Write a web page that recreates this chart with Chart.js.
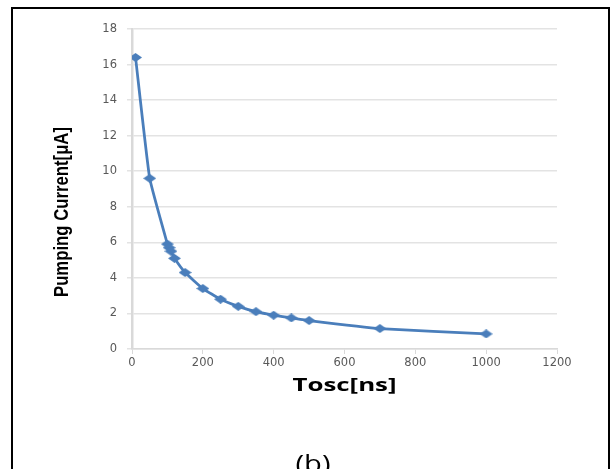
<!DOCTYPE html>
<html>
<head>
<meta charset="utf-8">
<title>Pumping Current vs Tosc</title>
<script src="https://cdn.jsdelivr.net/npm/chart.js@4/dist/chart.umd.min.js"></script>
<style>
  html, body { margin: 0; padding: 0; background: #ffffff; }
  #wrap { position: relative; width: 611px; height: 469px; }
</style>
</head>
<body>
<div id="wrap"><canvas id="chart" width="611" height="469"></canvas></div>
<script>
// Oscillation period (ns) and measured pumping current (µA)
const toscNs    = [10, 50, 100, 105, 110, 120, 150, 200, 250, 300, 350, 400, 450, 500, 700, 1000];
const currentUA = [16.4, 9.6, 5.9, 5.7, 5.5, 5.1, 4.3, 3.4, 2.8, 2.4, 2.1, 1.9, 1.75, 1.6, 1.15, 0.85];

// Axis ranges and labels
const xTickStep = 200, xMax = 1200;
const yTickStep = 2,   yMax = 18;
const xTitle = 'Tosc[ns]';
const yTitle = 'Pumping Current[\u03bcA]';
const caption = '(b)';

const seriesColor = '#4a7ebb';
const points = toscNs.map((x, i) => ({ x: x, y: currentUA[i] }));

// Wide diamond marker used as the point style
const marker = document.createElement('canvas');
marker.width = 13;
marker.height = 9;
(function () {
  const m = marker.getContext('2d');
  m.fillStyle = seriesColor;
  m.beginPath();
  m.moveTo(6.5, 0);
  m.lineTo(13, 4.5);
  m.lineTo(6.5, 9);
  m.lineTo(0, 4.5);
  m.closePath();
  m.fill();
})();

// Draws a text string squeezed/stretched to a given width
function fitText(ctx, text, cx, cy, width, font, rotate) {
  ctx.save();
  ctx.font = font;
  const w = ctx.measureText(text).width;
  ctx.translate(cx, cy);
  if (rotate) ctx.rotate(-Math.PI / 2);
  ctx.scale(width / w, 1);
  ctx.textAlign = 'center';
  ctx.textBaseline = 'middle';
  ctx.fillStyle = '#000000';
  ctx.fillText(text, 0, 0);
  ctx.restore();
}

const framePlugin = {
  id: 'frame',
  beforeDraw(chart) {
    const ctx = chart.ctx;
    ctx.save();
    ctx.fillStyle = '#ffffff';
    ctx.fillRect(0, 0, chart.width, chart.height);
    ctx.strokeStyle = '#000000';
    ctx.lineWidth = 2;
    ctx.strokeRect(12, 8, 597, 480);
    ctx.restore();
  },
  afterDraw(chart) {
    const ctx = chart.ctx;
    const area = chart.chartArea;
    // axis titles and caption
    fitText(ctx, yTitle, 62, 212, 170, 'bold 20px "Liberation Sans Narrow", "Liberation Sans", sans-serif', true);
    fitText(ctx, xTitle, (area.left + area.right) / 2, 386, 104, 'bold 18px "Open Sans", sans-serif', false);
    ctx.save();
    ctx.font = '24px "Open Sans", sans-serif';
    const w = ctx.measureText(caption).width;
    ctx.translate(313, 472);
    ctx.scale(35 / w, 1);
    ctx.textAlign = 'center';
    ctx.textBaseline = 'alphabetic';
    ctx.fillStyle = '#000000';
    ctx.fillText(caption, 0, 0);
    ctx.restore();
  }
};

new Chart(document.getElementById('chart'), {
  type: 'line',
  data: {
    datasets: [{
      data: points,
      borderColor: seriesColor,
      backgroundColor: seriesColor,
      borderWidth: 2.75,
      pointStyle: marker,
      pointRadius: 5,
      tension: 0.12,
      fill: false
    }]
  },
  options: {
    responsive: false,
    animation: false,
    layout: { padding: { left: 0, right: 54, top: 29, bottom: 0 } },
    plugins: {
      legend: { display: false },
      tooltip: { enabled: false },
      title: { display: false }
    },
    scales: {
      x: {
        type: 'linear',
        min: 0,
        max: xMax,
        afterFit(scale) { scale.height = 120; },
        ticks: {
          stepSize: xTickStep,
          callback: (v) => String(v),
          color: '#595959',
          font: { family: '"DejaVu Sans", sans-serif', size: 11.5 },
          padding: 2,
          maxRotation: 0
        },
        grid: {
          drawOnChartArea: false,
          drawTicks: true,
          tickLength: 5,
          color: '#d9d9d9'
        },
        border: { color: '#d9d9d9', width: 1.5 }
      },
      y: {
        min: 0,
        max: yMax,
        afterFit(scale) { scale.width = 132; },
        ticks: {
          stepSize: yTickStep,
          callback: (v) => String(v),
          color: '#595959',
          font: { family: '"DejaVu Sans", sans-serif', size: 11.5 },
          padding: 10
        },
        grid: {
          color: '#e3e3e3',
          lineWidth: 1.5,
          drawTicks: true,
          tickLength: 5
        },
        border: { color: '#d9d9d9', width: 2.5 }
      }
    }
  },
  plugins: [framePlugin]
});
</script>
</body>
</html>
